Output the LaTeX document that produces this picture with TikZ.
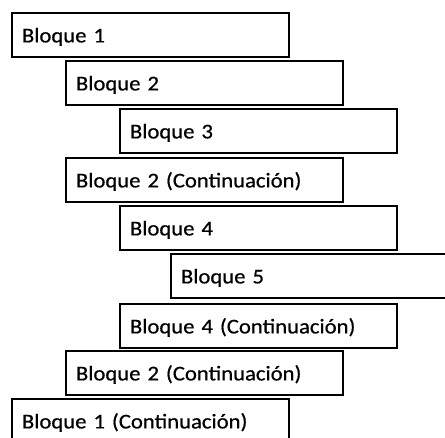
\documentclass[tikz,border=0pt]{standalone}
\usepackage{fontspec}
\setmainfont{Carlito}[FakeStretch=1.08,FakeBold=0.6]
\begin{document}
\begin{tikzpicture}[x=1pt,y=1pt,
  blk/.style={draw=black, line width=1.8pt, rectangle, anchor=north west,
    minimum height=44pt, text width=257pt, inner xsep=10pt, inner ysep=0pt,
    align=left, text height=15pt, text depth=0pt,
    font=\fontsize{21pt}{25pt}\selectfont}]
\useasboundingbox (0,0) rectangle (445,-438);
\clip (0,0) rectangle (445,-438);
\node[blk] (b1)  at (11,-12)  {Bloque 1};
\node[blk] (b2)  at (65,-60)  {Bloque 2};
\node[blk] (b3)  at (119,-108) {Bloque 3};
\node[blk] (b2c) at (65,-157) {Bloque 2 (Continuación)};
\node[blk] (b4)  at (119,-205) {Bloque 4};
\node[blk] (b5)  at (170,-253) {Bloque 5};
\node[blk] (b4c) at (119,-303) {Bloque 4 (Continuación)};
\node[blk] (b2d) at (65,-350) {Bloque 2 (Continuación)};
\node[blk] (b1c) at (11,-398) {Bloque 1 (Continuación)};
\end{tikzpicture}
\end{document}
